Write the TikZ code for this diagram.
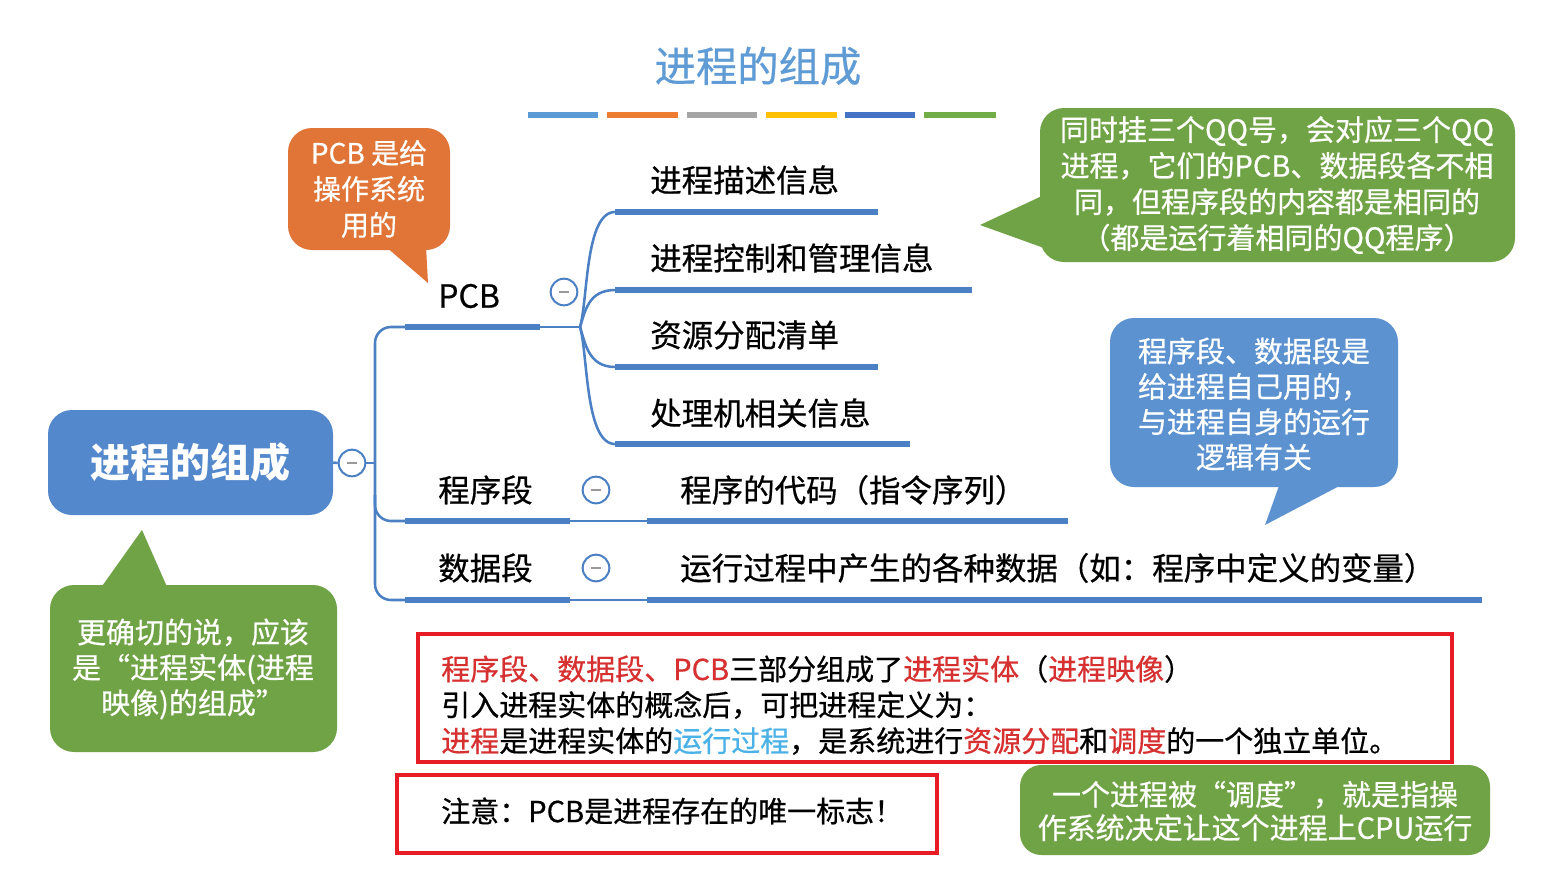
\documentclass[tikz,border=0pt]{standalone}
\usepackage{fontspec}
\setmainfont{Noto Sans CJK SC}
\newfontfamily\medfont{Noto Sans CJK SC}[FakeBold=0.6]
\definecolor{tblue}{RGB}{95,155,212}
\definecolor{lineblue}{RGB}{76,128,196}
\definecolor{rootblue}{RGB}{84,136,204}
\definecolor{orangeC}{RGB}{224,117,55}
\definecolor{greenC}{RGB}{112,163,69}
\definecolor{calloutblue}{RGB}{91,146,207}
\definecolor{redbox}{RGB}{232,28,36}
\definecolor{redtxt}{RGB}{214,48,48}
\definecolor{cyantxt}{RGB}{74,178,230}
\definecolor{bA}{RGB}{91,155,213}
\definecolor{bB}{RGB}{237,125,49}
\definecolor{bC}{RGB}{165,165,165}
\definecolor{bD}{RGB}{255,192,0}
\definecolor{bE}{RGB}{68,114,196}
\definecolor{bF}{RGB}{112,173,71}
\begin{document}
\begin{tikzpicture}[x=0.75pt,y=-0.75pt,
  thinline/.style={draw=lineblue,line width=1.9pt},
  barline/.style={draw=lineblue,line width=5.2pt},
  lbl/.style={anchor=west,inner sep=0pt,font=\medfont\fontsize{23.6}{28}\selectfont},
  collapse/.style={circle,draw=lineblue,line width=1.5pt,fill=white,minimum size=20pt,inner sep=0pt},
  ctext/.style={text=white,align=center,inner sep=0pt,font=\medfont\fontsize{21.75}{27}\selectfont},
  boxtext/.style={anchor=west,inner sep=0pt,font=\medfont\fontsize{21.75}{27}\selectfont},
  colorbar/.style={line width=5pt},
]
\useasboundingbox (0,0) rectangle (1542,893);
\fill[white] (0,0) rectangle (1542,893);

% title
\node[text=tblue,font=\medfont\fontsize{31}{36}\selectfont] (title) at (758,66) {进程的组成};
\draw[colorbar,bA] (528,115) -- (598,115);
\draw[colorbar,bB] (607,115) -- (678,115);
\draw[colorbar,bC] (687,115) -- (757,115);
\draw[colorbar,bD] (766,115) -- (837,115);
\draw[colorbar,bE] (845,115) -- (915,115);
\draw[colorbar,bF] (924,115) -- (996,115);

% root
\node[fill=rootblue,rounded corners=18pt,minimum width=213.75pt,minimum height=78.75pt,
      text=white,font=\bfseries\fontsize{30}{36}\selectfont] (root) at (190.5,462.5) {进程的组成};
\node[collapse] (c0) at (352,463) {\color{gray!80}\rule[-0.75pt]{7pt}{1.5pt}};
\coordinate (tr) at (375,463);
\draw[thinline] (root.east) -- (c0.west);
\draw[thinline] (c0.east) -- (tr);

% trunk
\coordinate (pcbL) at (405,327);
\coordinate (pcbR) at (540,327);
\coordinate (pcbJ) at (580,327);
\coordinate (prL) at (405,521);
\coordinate (prR) at (570,521);
\coordinate (prJ) at (647,521);
\coordinate (prE) at (1068,521);
\coordinate (daL) at (405,600);
\coordinate (daR) at (570,600);
\coordinate (daJ) at (647,600);
\coordinate (daE) at (1482,600);
\draw[thinline,rounded corners=12pt] (pcbL) -- (375,327) -- (375,600) -- (daL);
\draw[thinline,rounded corners=12pt] (375,495) -- (375,521) -- (prL);

% PCB branch
\draw[barline] (pcbL) -- (pcbR);
\draw[thinline] (pcbR) -- (pcbJ);
\node[lbl,font=\medfont\fontsize{24}{28}\selectfont] (pcb) at (438,296) {PCB};
\node[collapse] (c1) at (564,292) {\color{gray!80}\rule[-0.75pt]{7pt}{1.5pt}};

\coordinate (d1L) at (615,212); \coordinate (d1R) at (878,212);
\coordinate (d2L) at (615,290); \coordinate (d2R) at (972,290);
\coordinate (d3L) at (615,367); \coordinate (d3R) at (878,367);
\coordinate (d4L) at (615,444); \coordinate (d4R) at (910,444);
\draw[thinline] (pcbJ) .. controls (588,300) and (585,212) .. (d1L);
\draw[thinline] (pcbJ) .. controls (585,312) and (588,290) .. (d2L);
\draw[thinline] (pcbJ) .. controls (585,342) and (588,367) .. (d3L);
\draw[thinline] (pcbJ) .. controls (588,354) and (585,444) .. (d4L);
\draw[barline] (d1L) -- (d1R);
\draw[barline] (d2L) -- (d2R);
\draw[barline] (d3L) -- (d3R);
\draw[barline] (d4L) -- (d4R);
\node[lbl] (t1) at (650,180) {进程描述信息};
\node[lbl] (t2) at (650,258) {进程控制和管理信息};
\node[lbl] (t3) at (650,335) {资源分配清单};
\node[lbl] (t4) at (650,413) {处理机相关信息};

% program segment
\draw[barline] (prL) -- (prR);
\draw[thinline] (prR) -- (prJ);
\draw[barline] (prJ) -- (prE);
\node[lbl] (prog) at (438,490) {程序段};
\node[collapse] (c2) at (596,490) {\color{gray!80}\rule[-0.75pt]{7pt}{1.5pt}};
\node[lbl] (progt) at (680,490) {程序的代码（指令序列）};

% data segment
\draw[barline] (daL) -- (daR);
\draw[thinline] (daR) -- (daJ);
\draw[barline] (daJ) -- (daE);
\node[lbl] (data) at (438,568) {数据段};
\node[collapse] (c3) at (596,568) {\color{gray!80}\rule[-0.75pt]{7pt}{1.5pt}};
\node[lbl] (datat) at (680,568) {运行过程中产生的各种数据（如：程序中定义的变量）};

% orange callout
\fill[orangeC,rounded corners=18pt] (288,128) rectangle (450,250);
\fill[orangeC] (385,246) -- (426,246) -- (428,283) -- cycle;
\node[ctext,font=\medfont\fontsize{21}{27}\selectfont] (pcbnote) at (369,189) {PCB 是给\\操作系统\\用的};

% top right green callout
\fill[greenC,rounded corners=18pt] (1040,108) rectangle (1515,262);
\fill[greenC] (1044,195) -- (980,225) -- (1044,248) -- cycle;
\node[ctext] (qqnote) at (1277,185) {同时挂三个QQ号，会对应三个QQ\\进程，它们的PCB、数据段各不相\\同，但程序段的内容都是相同的\\（都是运行着相同的QQ程序）};

% blue callout
\fill[calloutblue,rounded corners=18pt] (1110,318) rectangle (1398,487);
\fill[calloutblue] (1280,483) -- (1345,483) -- (1265,525) -- cycle;
\node[ctext,font=\medfont\fontsize{21.75}{26.5}\selectfont] (segnote) at (1254,404) {程序段、数据段是\\给进程自己用的，\\与进程自身的运行\\逻辑有关};

% bottom left green callout
\fill[greenC,rounded corners=18pt] (50,585) rectangle (337,752);
\fill[greenC] (100,589) -- (168,589) -- (142,530) -- cycle;
\node[ctext,font=\medfont\fontsize{21.75}{26.5}\selectfont] (entnote) at (193,669) {更确切的说，应该\\是“进程实体(进程\\映像)的组成”};

% bottom right green callout
\fill[greenC,rounded corners=16pt] (1020,765) rectangle (1490,855);
\node[ctext,font=\medfont\fontsize{21.75}{25}\selectfont] (schednote) at (1255,811) {一个进程被“调度”，就是指操\\作系统决定让这个进程上CPU运行};

% red boxes
\draw[redbox,line width=3pt] (418,634) rectangle (1452,762);
\draw[redbox,line width=3pt] (397,775) rectangle (937,853);
\node[boxtext] (l1) at (441,669) {\textcolor{redtxt}{程序段、数据段、PCB}三部分组成了\textcolor{redtxt}{进程实体}（\textcolor{redtxt}{进程映像}）};
\node[boxtext] (l2) at (441,705) {引入进程实体的概念后，可把进程定义为：};
\node[boxtext] (l3) at (441,741) {\textcolor{redtxt}{进程}是进程实体的\textcolor{cyantxt}{运行过程}，是系统进行\textcolor{redtxt}{资源分配}和\textcolor{redtxt}{调度}的一个独立单位。};
\node[boxtext] (l4) at (441,811) {注意：PCB是进程存在的唯一标志！};
\end{tikzpicture}
\end{document}
